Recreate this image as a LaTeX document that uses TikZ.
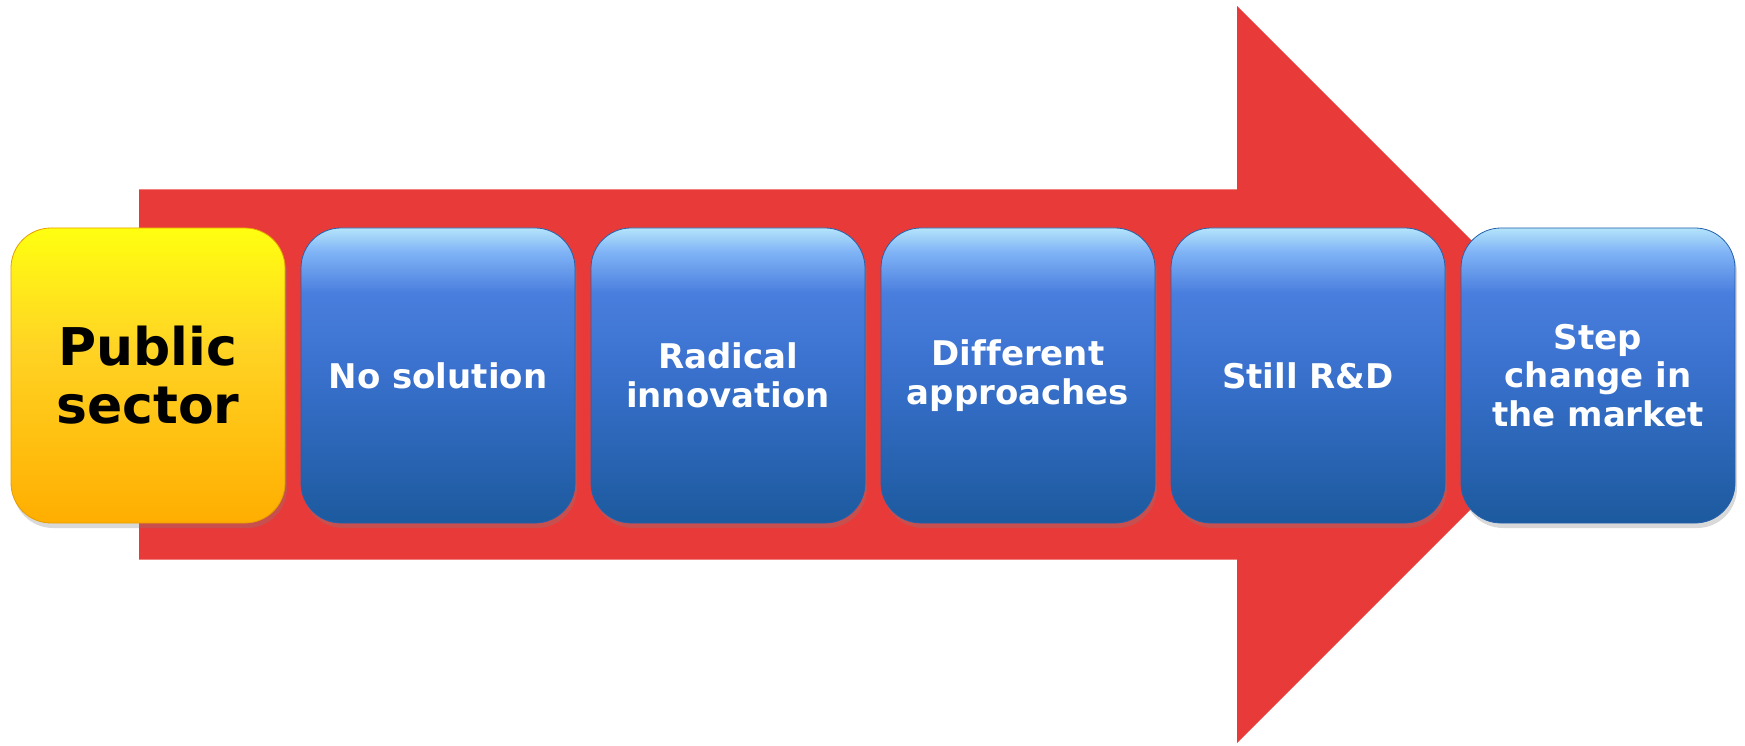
\documentclass[tikz,border=0pt]{standalone}
\usepackage{fontspec}
\setmainfont[Ligatures=NoCommon]{DejaVu Sans}
\usetikzlibrary{positioning,shadows}

\definecolor{arrowred}{HTML}{E83B39}
\definecolor{blutop}{HTML}{B4E4FA}
\definecolor{blulight}{HTML}{80B4F6}
\definecolor{bluhi}{HTML}{4A7EDE}
\definecolor{blumid}{HTML}{3870CC}
\definecolor{blubot}{HTML}{1C5A9E}
\definecolor{yeltop}{HTML}{FFFF10}
\definecolor{yelmid}{HTML}{FFD424}
\definecolor{yelbot}{HTML}{FFAE00}

\pgfdeclareverticalshading{blueshade}{100bp}{color(0bp)=(blubot); color(25bp)=(blubot); color(50bp)=(blumid); color(64bp)=(bluhi); color(71bp)=(blulight); color(75bp)=(blutop); color(100bp)=(blutop)}
\pgfdeclareverticalshading{yellowshade}{100bp}{color(0bp)=(yelbot); color(25bp)=(yelbot); color(55bp)=(yelmid); color(75bp)=(yeltop); color(100bp)=(yeltop)}

\begin{document}
\begin{tikzpicture}[x=1pt, y=1pt, node distance={15.2pt},
    card/.style = {rounded corners=40pt, minimum width=274pt, minimum height=295pt, inner sep=0pt, align=center,
        font=\bfseries\fontsize{34}{38.5}\selectfont,
        drop shadow={opacity=0.3, shadow xshift=2pt, shadow yshift=-5pt}},
    bluecard/.style = {card, shading=blueshade, draw=blubot!70!blumid, line width=0.8pt, text=white},
    yellowcard/.style = {card, shading=yellowshade, draw=yelbot!90!black, line width=0.8pt, text=black,
        font=\bfseries\fontsize{52}{58}\selectfont}]
    \useasboundingbox (0,0) rectangle (1745,745);

    % the big arrow
    \fill[arrowred] (139,555.5) -- (1237,555.5) -- (1237,739) -- (1605.5,370.5)
        -- (1237,2) -- (1237,185.5) -- (139,185.5) -- cycle;

    \node[yellowcard] (pub) at (148,369.5) {Public\\sector};
    \node[bluecard] (nosol) [right=of pub] {No solution};
    \node[bluecard] (radical) [right=of nosol] {Radical\\innovation};
    \node[bluecard] (diff) [right=of radical] {Different\\approaches};
    \node[bluecard] (rnd) [right=of diff] {Still R\&D};
    \node[bluecard] (market) [right=of rnd] {Step\\change in\\the market};
\end{tikzpicture}
\end{document}
